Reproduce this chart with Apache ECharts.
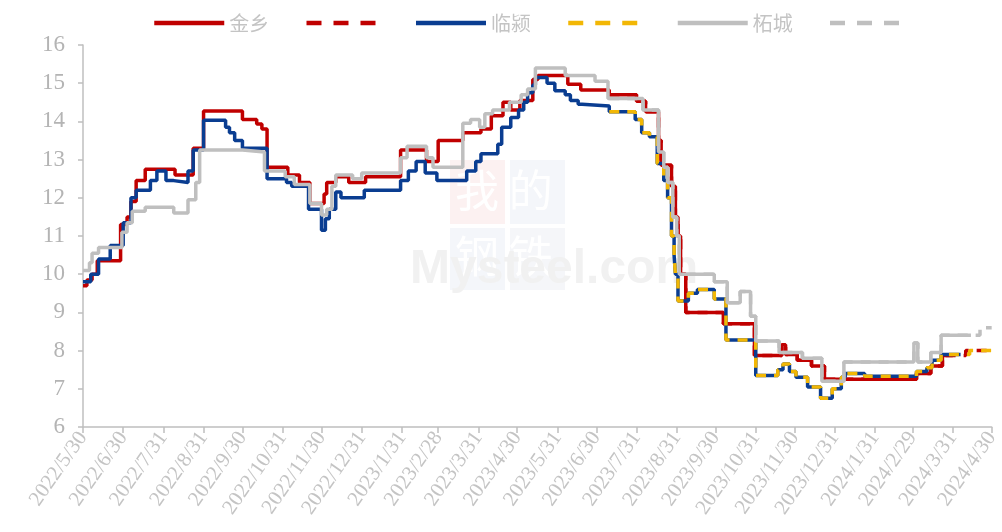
<!DOCTYPE html>
<html>
<head>
<meta charset="utf-8">
<script src="https://cdn.jsdelivr.net/npm/echarts@6/dist/echarts.min.js"></script>
<style>
html,body{margin:0;padding:0;background:#fff}
#main{width:1002px;height:532px}
</style>
</head>
<body>
<div id="main"></div>
<script>
// month-end tick labels on the x axis
var tickLabels = ['2022/5/30','2022/6/30','2022/7/31','2022/8/31','2022/9/30','2022/10/31','2022/11/30','2022/12/31',
    '2023/1/31','2023/2/28','2023/3/31','2023/4/30','2023/5/31','2023/6/30','2023/7/31','2023/8/31','2023/9/30',
    '2023/10/31','2023/11/30','2023/12/31','2024/1/31','2024/2/29','2024/3/31','2024/4/30'];

// step points: [date, price] where price changes
var jinxiang = [['2022/5/30',9.7],['2022/6/2',9.85],['2022/6/6',10.0],['2022/6/10',10.35],['2022/6/28',11.3],['2022/7/3',11.5],
    ['2022/7/6',11.9],['2022/7/10',12.45],['2022/7/17',12.75],['2022/8/9',12.6],['2022/8/23',13.3],['2022/8/31',14.27],
    ['2022/9/30',14.05],['2022/10/11',13.93],['2022/10/15',13.8],['2022/10/19',12.8],['2022/11/4',12.6],['2022/11/13',12.4],
    ['2022/11/21',11.85],['2022/12/2',12.1],['2022/12/4',12.4],['2022/12/11',12.55],['2022/12/21',12.4],['2023/1/3',12.55],
    ['2023/1/30',13.25],['2023/2/19',12.95],['2023/2/28',13.5],['2023/3/19',13.7],['2023/4/2',13.8],['2023/4/10',14.15],
    ['2023/4/19',14.5],['2023/4/25',14.3],['2023/5/2',14.55],['2023/5/12',15.1],['2023/5/16',15.2],['2023/6/8',14.97],
    ['2023/6/18',14.82],['2023/7/10',14.7],['2023/7/31',14.53],['2023/8/7',14.25],['2023/8/17',13.5],['2023/8/19',12.85],
    ['2023/8/27',12.3],['2023/8/30',11.5],['2023/9/1',11.0],['2023/9/3',10.0],['2023/9/7',9.0],['2023/10/6',8.7],
    ['2023/10/30',7.87],['2023/11/20',8.15],['2023/11/23',7.9],['2023/12/2',7.75],['2023/12/13',7.6],['2023/12/23',7.25],
    ['2024/3/3',7.4],['2024/3/14',7.6],['2024/3/23',7.87],['2024/3/31',7.87]];
var jinxiangTail = [['2024/4/10',8.0],['2024/4/30',8.0]];

var linying = [['2022/5/30',9.8],['2022/6/5',10.0],['2022/6/11',10.4],['2022/6/20',10.75],['2022/6/30',11.35],['2022/7/6',12.0],
    ['2022/7/10',12.2],['2022/7/21',12.45],['2022/7/26',12.7],['2022/8/2',12.45],['2022/8/8',12.4],['2022/8/19',12.7],
    ['2022/8/23',13.25],['2022/8/31',14.03],['2022/9/17',13.85],['2022/9/20',13.7],['2022/9/24',13.5],['2022/9/30',13.3],
    ['2022/10/19',12.5],['2022/11/3',12.4],['2022/11/7',12.3],['2022/11/20',11.7],['2022/11/30',11.15],['2022/12/3',11.45],
    ['2022/12/6',11.7],['2022/12/11',12.15],['2022/12/15',12.0],['2023/1/2',12.2],['2023/1/30',12.45],['2023/2/5',12.7],
    ['2023/2/11',12.95],['2023/2/18',12.65],['2023/2/27',12.45],['2023/3/22',12.7],['2023/3/29',12.95],['2023/4/2',13.15],
    ['2023/4/15',13.4],['2023/4/18',13.85],['2023/4/25',14.1],['2023/5/1',14.3],['2023/5/5',14.5],['2023/5/8',14.75],
    ['2023/5/12',14.95],['2023/5/14',15.15],['2023/5/23',15.0],['2023/5/29',14.8],['2023/6/6',14.7],['2023/6/10',14.55],
    ['2023/6/16',14.45],['2023/6/19',14.4],['2023/7/10',14.25],['2023/7/30',14.05],['2023/8/4',13.7],['2023/8/10',13.6],
    ['2023/8/16',12.9],['2023/8/21',12.45],['2023/8/24',12.0],['2023/8/27',11.0],['2023/8/29',10.5],['2023/8/30',10.0],
    ['2023/9/1',9.3],['2023/9/9',9.5],['2023/9/16',9.6],['2023/9/29',9.35],['2023/10/8',8.28],['2023/10/31',7.35],
    ['2023/11/17',7.5],['2023/11/21',7.65],['2023/11/26',7.45],['2023/12/1',7.3],['2023/12/10',7.05],['2023/12/20',6.75],
    ['2023/12/29',7.0],['2024/1/5',7.3],['2024/1/8',7.4],['2024/1/23',7.33],['2024/3/3',7.45],['2024/3/11',7.55],
    ['2024/3/15',7.75],['2024/3/22',7.9],['2024/4/6',7.9]];
var linyingTail = [['2024/4/13',8.0],['2024/4/30',8.0]];

var zhecheng = [['2022/5/30',10.1],['2022/6/4',10.3],['2022/6/6',10.55],['2022/6/11',10.7],['2022/6/29',11.1],['2022/7/3',11.35],
    ['2022/7/7',11.65],['2022/7/17',11.75],['2022/8/8',11.6],['2022/8/19',11.95],['2022/8/25',12.4],['2022/8/28',13.25],
    ['2022/9/30',13.2],['2022/10/17',12.7],['2022/11/2',12.55],['2022/11/9',12.35],['2022/11/21',11.85],['2022/11/30',11.55],
    ['2022/12/4',11.7],['2022/12/8',12.3],['2022/12/11',12.6],['2022/12/24',12.5],['2022/12/31',12.65],['2023/1/30',13.05],
    ['2023/2/4',13.35],['2023/2/19',13.05],['2023/2/24',12.8],['2023/3/19',13.95],['2023/3/25',14.05],['2023/4/1',13.85],
    ['2023/4/5',14.2],['2023/4/11',14.3],['2023/4/24',14.5],['2023/5/3',14.7],['2023/5/8',14.85],['2023/5/14',15.4],
    ['2023/6/6',15.2],['2023/6/29',15.05],['2023/7/9',14.6],['2023/8/5',14.3],['2023/8/17',13.2],['2023/8/21',12.8],
    ['2023/8/24',12.4],['2023/8/28',11.5],['2023/8/31',11.0],['2023/9/2',10.0],['2023/9/29',9.8],['2023/10/9',9.25],
    ['2023/10/19',9.55],['2023/10/27',8.9],['2023/10/31',8.25],['2023/11/18',7.95],['2023/12/6',7.8],['2023/12/21',7.2],
    ['2024/1/7',7.7],['2024/3/1',8.2],['2024/3/4',7.7],['2024/3/14',7.95],['2024/3/22',8.4],['2024/4/14',8.4]];
var zhechengTail = [['2024/4/21',8.6],['2024/4/30',8.6]];

var splitDate = '2023/7/10';   // dashed lines start here

// daily category axis
var days = [];
var dayIdx = {};
var dt = new Date(2022, 4, 30), endDt = new Date(2024, 3, 30);
while (dt <= endDt) {
    var s = dt.getFullYear() + '/' + (dt.getMonth() + 1) + '/' + dt.getDate();
    dayIdx[s] = days.length;
    days.push(s);
    dt.setDate(dt.getDate() + 1);
}
var tickSet = {};
tickLabels.forEach(function (t) { tickSet[t] = true; });

function dashed(points, tail) {
    var si = dayIdx[splitDate], start = null, out = [];
    points.forEach(function (p) {
        if (dayIdx[p[0]] <= si) start = p[1];
        else out.push(p);
    });
    return [[splitDate, start]].concat(out, tail);
}

var red = '#C00000', blue = '#0A3D91', yellow = '#F2B705', gray = '#BFBFBF';
var dash = [10, 8];

function line(name, data, color, type) {
    return {
        name: name, type: 'line', step: 'end', data: data, symbol: 'none',
        lineStyle: {color: color, width: 3.5, type: type || 'solid', cap: 'butt'},
        itemStyle: {color: color}, animation: false
    };
}

var chart = echarts.init(document.getElementById('main'));
chart.setOption({
    backgroundColor: '#fff',
    grid: {left: 83, right: 5, top: 45, bottom: 105},
    legend: {
        top: 8, left: 147, itemWidth: 70, itemHeight: 12, itemGap: 35,
        itemStyle: {opacity: 0},
        lineStyle: {width: 4.5},
        textStyle: {color: '#c4c4c4', fontSize: 20, fontFamily: 'Noto Sans CJK SC'},
        formatter: function (n) { return n.indexOf('_') > -1 ? '' : n; },
        data: [
            {name: '金乡'}, {name: '金乡_', lineStyle: {type: [15, 12], width: 4.5}},
            {name: '临颍'}, {name: '临颍_', lineStyle: {type: [15, 12], width: 4.5}},
            {name: '柘城'}, {name: '柘城_', lineStyle: {type: [15, 12], width: 4.5}}
        ]
    },
    graphic: [
        {type: 'rect', left: 450, top: 160, shape: {width: 55, height: 64}, style: {fill: '#fcf1f1'}, z: -1},
        {type: 'rect', left: 510, top: 160, shape: {width: 55, height: 64}, style: {fill: '#f4f6fa'}, z: -1},
        {type: 'rect', left: 450, top: 228, shape: {width: 55, height: 62}, style: {fill: '#f4f6fa'}, z: -1},
        {type: 'rect', left: 510, top: 228, shape: {width: 55, height: 62}, style: {fill: '#f5f6f9'}, z: -1},
        {type: 'text', left: 455, top: 168, z: -1,
            style: {text: '我 的', fill: '#ffffff', font: '44px "Noto Sans CJK SC"'}},
        {type: 'text', left: 455, top: 234, z: -1,
            style: {text: '钢 铁', fill: '#ffffff', font: '44px "Noto Sans CJK SC"'}},
        {type: 'text', left: 410, top: 246, z: -1,
            style: {text: 'Mysteel.com', fill: '#f1f1f1', font: 'bold 48px "Liberation Sans"'}}
    ],
    xAxis: {
        type: 'category', data: days, boundaryGap: false,
        axisLine: {lineStyle: {color: '#bfbfbf', width: 1.5}},
        axisTick: {length: 6, lineStyle: {color: '#bfbfbf', width: 1.5},
            interval: function (i, v) { return !!tickSet[v]; }},
        axisLabel: {rotate: 55, color: '#c4c4c4', fontSize: 21, fontFamily: 'Liberation Serif', margin: 7,
            interval: function (i, v) { return !!tickSet[v]; }},
        splitLine: {show: false}
    },
    yAxis: {
        type: 'value', min: 6, max: 16, interval: 1,
        axisLine: {show: true, lineStyle: {color: '#bfbfbf', width: 1.5}},
        axisTick: {show: true, length: 5, lineStyle: {color: '#bfbfbf', width: 1.5}},
        axisLabel: {color: '#b4b4b4', fontSize: 23, fontFamily: 'Liberation Serif', margin: 18},
        splitLine: {show: false}
    },
    series: [
        line('金乡', jinxiang, red),
        line('金乡_', dashed(jinxiang, jinxiangTail), red, dash),
        line('临颍', linying, blue),
        line('临颍_', dashed(linying, linyingTail), yellow, dash),
        line('柘城', zhecheng, gray),
        line('柘城_', dashed(zhecheng, zhechengTail), gray, dash)
    ]
});
</script>
</body>
</html>
